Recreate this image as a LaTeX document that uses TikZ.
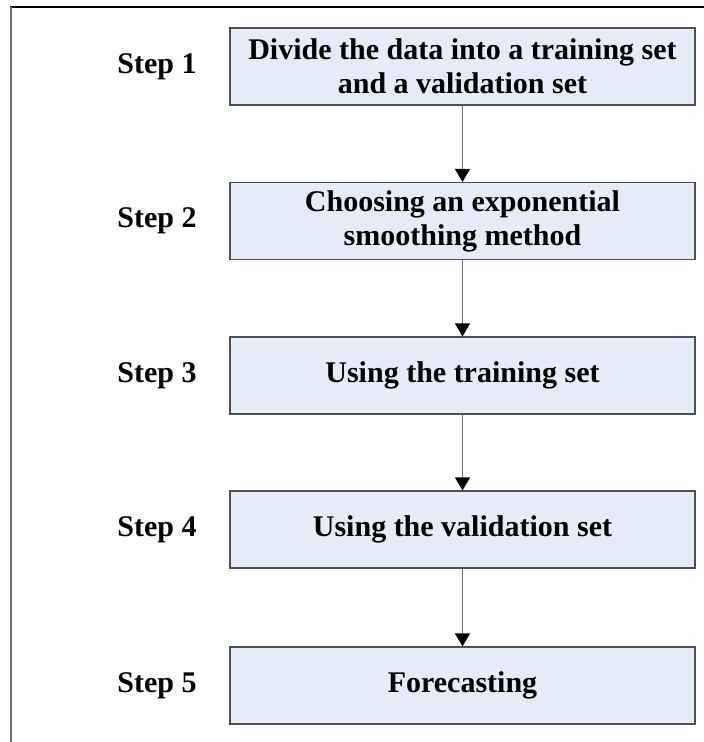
\documentclass[tikz,border=0pt]{standalone}
\usepackage{fontspec}
\setmainfont{Liberation Serif}
\usetikzlibrary{arrows.meta}
\definecolor{boxfill}{HTML}{E6ECF7}
\definecolor{boxline}{HTML}{505050}
\definecolor{linkgray}{HTML}{707070}
\begin{document}
\begin{tikzpicture}[x=1pt,y=-1pt,
  stepbox/.style={draw=boxline, line width=1.2pt, fill=boxfill,
    minimum width=465pt, minimum height=77pt, inner sep=0pt,
    align=center, font=\fontsize{30}{34}\selectfont\bfseries},
  steplabel/.style={font=\fontsize{30}{34}\selectfont\bfseries, inner sep=0pt},
  link/.style={draw=linkgray, line width=1.4pt,
    -{Triangle[width=15pt,length=13pt,fill=black,color=black]}}]
\useasboundingbox (0,0) rectangle (704,742);
% frame lines along the top and left edges
\coordinate (ftl) at (11,7);
\coordinate (ftr) at (704,7);
\coordinate (fbl) at (11,742);
\draw[line width=2.4pt, black] (ftr) -- (10,7);
\draw[line width=1.5pt, linkgray] (ftl) -- (fbl);
% the five steps
\node[stepbox] (b1) at (462.5,66.5) {Divide the data into a training set\\and a validation set};
\node[stepbox] (b2) at (462.5,221) {Choosing an exponential\\smoothing method};
\node[stepbox] (b3) at (462.5,375.5) {Using the training set};
\node[stepbox] (b4) at (462.5,529.5) {Using the validation set};
\node[stepbox] (b5) at (462.5,685.5) {Forecasting};
\node[steplabel] (s1) at (157,66.5) {Step 1};
\node[steplabel] (s2) at (157,221) {Step 2};
\node[steplabel] (s3) at (157,375.5) {Step 3};
\node[steplabel] (s4) at (157,529.5) {Step 4};
\node[steplabel] (s5) at (157,685.5) {Step 5};
% connectors
\draw[link] (b1) -- (b2);
\draw[link] (b2) -- (b3);
\draw[link] (b3) -- (b4);
\draw[link] (b4) -- (b5);
\end{tikzpicture}
\end{document}
